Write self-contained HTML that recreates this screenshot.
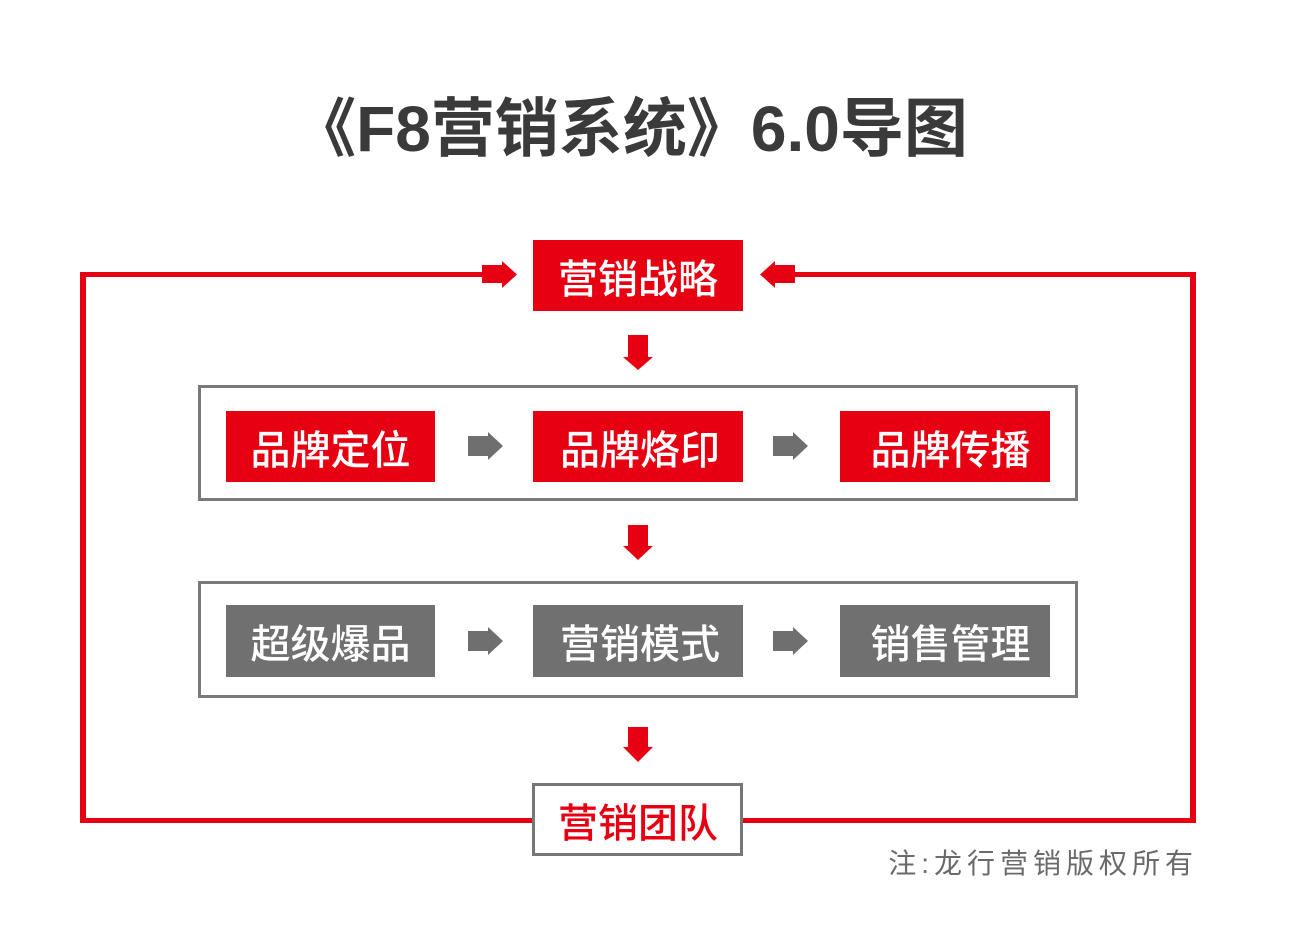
<!DOCTYPE html>
<html><head><meta charset="utf-8">
<style>
html,body{margin:0;padding:0;background:#fff;}
body{width:1293px;height:928px;position:relative;overflow:hidden;font-family:"Liberation Sans","Noto Sans CJK SC",sans-serif;}
.box{position:absolute;display:flex;align-items:center;justify-content:center;font-size:40px;color:#fff;font-weight:500;white-space:nowrap;box-sizing:border-box;}
.red{background:#e60012;}
.gray{background:#707070;}
.title{position:absolute;left:238px;width:784px;top:84px;text-align:center;font-size:64px;font-weight:bold;color:#3a3a3a;white-space:nowrap;line-height:90px;}
.note{position:absolute;left:880px;top:846px;width:318px;text-align:right;font-size:28px;color:#6a6a6a;letter-spacing:5px;white-space:nowrap;line-height:36px;}
</style></head>
<body>
<svg width="1293" height="928" style="position:absolute;left:0;top:0">
  <g fill="#e60012">
    <rect x="80" y="272" width="404" height="5"/>
    <rect x="80" y="272" width="6" height="551"/>
    <rect x="80" y="818" width="453" height="5"/>
    <rect x="794" y="272" width="402" height="5"/>
    <rect x="1190" y="272" width="6" height="551"/>
    <rect x="742" y="818" width="454" height="5"/>
    <polygon points="482,265 502,265 502,261 517,274.5 502,288 502,283 482,283"/>
    <polygon points="795,265 775,265 775,261 760,274.5 775,288 775,283 795,283"/>
    <polygon points="628,335 648,335 648,357 653,357 638,370 623,357 628,357"/>
    <polygon points="628,525 648,525 648,546 653,546 638,560 623,546 628,546"/>
    <polygon points="628,727 648,727 648,747 653,747 638,762 623,747 628,747"/>
  </g>
  <rect x="199.5" y="386.5" width="877" height="113" fill="none" stroke="#7a7a7a" stroke-width="3"/>
  <rect x="199.5" y="582.5" width="877" height="114" fill="none" stroke="#7a7a7a" stroke-width="3"/>
  <g fill="#6f6f6f">
    <polygon points="468,436 488,436 488,432 503,446 488,460 488,456 468,456"/>
    <polygon points="773,436 793,436 793,432 808,446 793,460 793,456 773,456"/>
    <polygon points="468,631 488,631 488,627 503,641 488,655 488,651 468,651"/>
    <polygon points="773,631 793,631 793,627 808,641 793,655 793,651 773,651"/>
  </g>
  <rect x="533.5" y="784.5" width="208" height="70" fill="#fff" stroke="#777" stroke-width="3"/>
</svg>

<div class="title">《F8营销系统》6.0导图</div>

<div class="box red" style="left:533px;top:240px;width:210px;height:71px;">营销战略</div>

<div class="box red" style="left:226px;top:411px;width:209px;height:71px;">品牌定位</div>
<div class="box red" style="left:533px;top:411px;width:210px;height:71px;padding-left:4px;">品牌烙印</div>
<div class="box red" style="left:840px;top:411px;width:210px;height:71px;padding-left:11px;">品牌传播</div>

<div class="box gray" style="left:226px;top:605px;width:209px;height:72px;">超级爆品</div>
<div class="box gray" style="left:533px;top:605px;width:210px;height:72px;padding-left:4px;">营销模式</div>
<div class="box gray" style="left:840px;top:605px;width:210px;height:72px;padding-left:11px;">销售管理</div>

<div class="box" style="left:533px;top:784px;width:210px;height:72px;color:#e60012;">营销团队</div>

<div class="note">注:龙行营销版权所有</div>
</body></html>
